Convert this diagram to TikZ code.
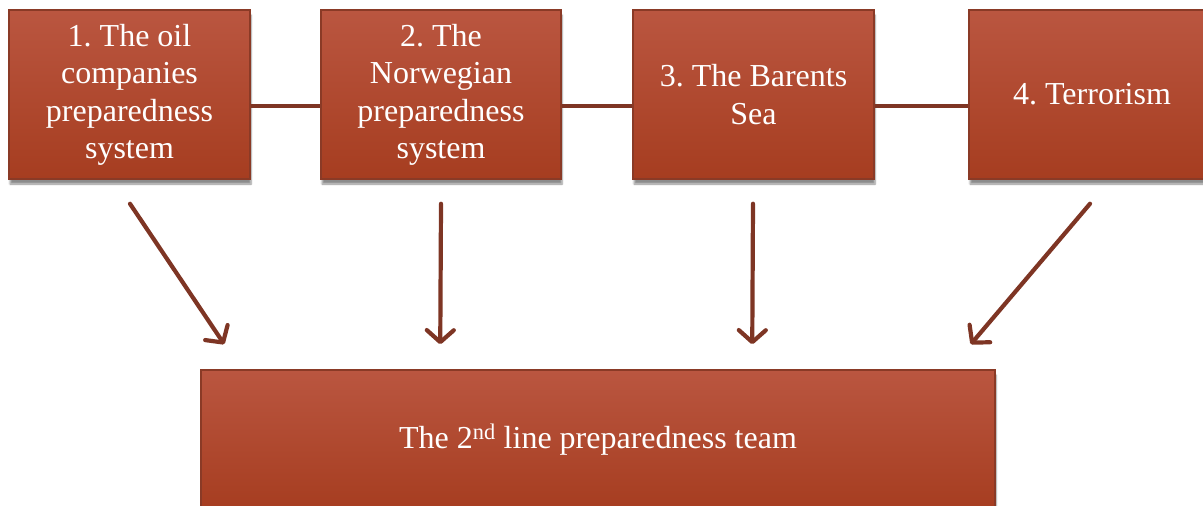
\documentclass[tikz,border=0pt]{standalone}
\usepackage{fontspec}
\setmainfont{Liberation Serif}
\frenchspacing
\usetikzlibrary{arrows.meta,shadows.blur,calc}
\definecolor{boxtop}{HTML}{BA5640}
\definecolor{boxbot}{HTML}{A63D20}
\definecolor{boxedge}{HTML}{8A3A26}
\definecolor{linkcol}{HTML}{7E3524}
\begin{document}
\begin{tikzpicture}[x=1pt,y=-1pt,
  topic/.style={rectangle, draw=boxedge, line width=1.5pt, top color=boxtop, bottom color=boxbot,
    minimum height=169pt, text=white, align=center, inner sep=0pt,
    font=\rmfamily\fontsize{32}{37.5}\selectfont,
    blur shadow={shadow xshift=1pt, shadow yshift=-5pt, shadow blur steps=6, shadow opacity=45}},
  link/.style={draw=linkcol, line width=3.2pt},
  feed/.style={draw=linkcol, line width=4.2pt, line cap=round,
    -{Straight Barb[length=12pt,width=27pt,line width=4.2pt,round]}}]
\useasboundingbox (0,0) rectangle (1203,506);
\node[topic, minimum width=241pt, text depth=6pt] (b1) at (129.5,94.5) {1. The oil\\companies\\preparedness\\system};
\node[topic, minimum width=240pt, text depth=6pt] (b2) at (441,94.5) {2. The\\Norwegian\\preparedness\\system};
\node[topic, minimum width=241pt] (b3) at (753.5,94.5) {3. The Barents\\Sea};
\node[topic, minimum width=246pt] (b4) at (1092,94.5) {4. Terrorism};
\node[topic, minimum width=794pt, minimum height=140pt] (bot) at (598,440) {The 2\textsuperscript{nd} line preparedness team};
% horizontal links between the four topics
\draw[link] ([yshift=-11.5pt]b1.east) -- ([yshift=-11.5pt]b2.west);
\draw[link] ([yshift=-11.5pt]b2.east) -- ([yshift=-11.5pt]b3.west);
\draw[link] ([yshift=-11.5pt]b3.east) -- ([yshift=-11.5pt]b4.west);
% arrows into the team box
\draw[feed] ($(b1.south)+(0.5,24)$) -- ($(bot.north west)+(24,-25)$);
\draw[feed] ($(b2.south)+(0,24)$) -- ($(bot.north west)+(240,-25)$);
\draw[feed] ($(b3.south)+(-0.5,24)$) -- ($(bot.north west)+(552,-25)$);
\draw[feed] ($(b4.south)+(-2,24)$) -- ($(bot.north east)+(-25,-25)$);
\end{tikzpicture}
\end{document}
